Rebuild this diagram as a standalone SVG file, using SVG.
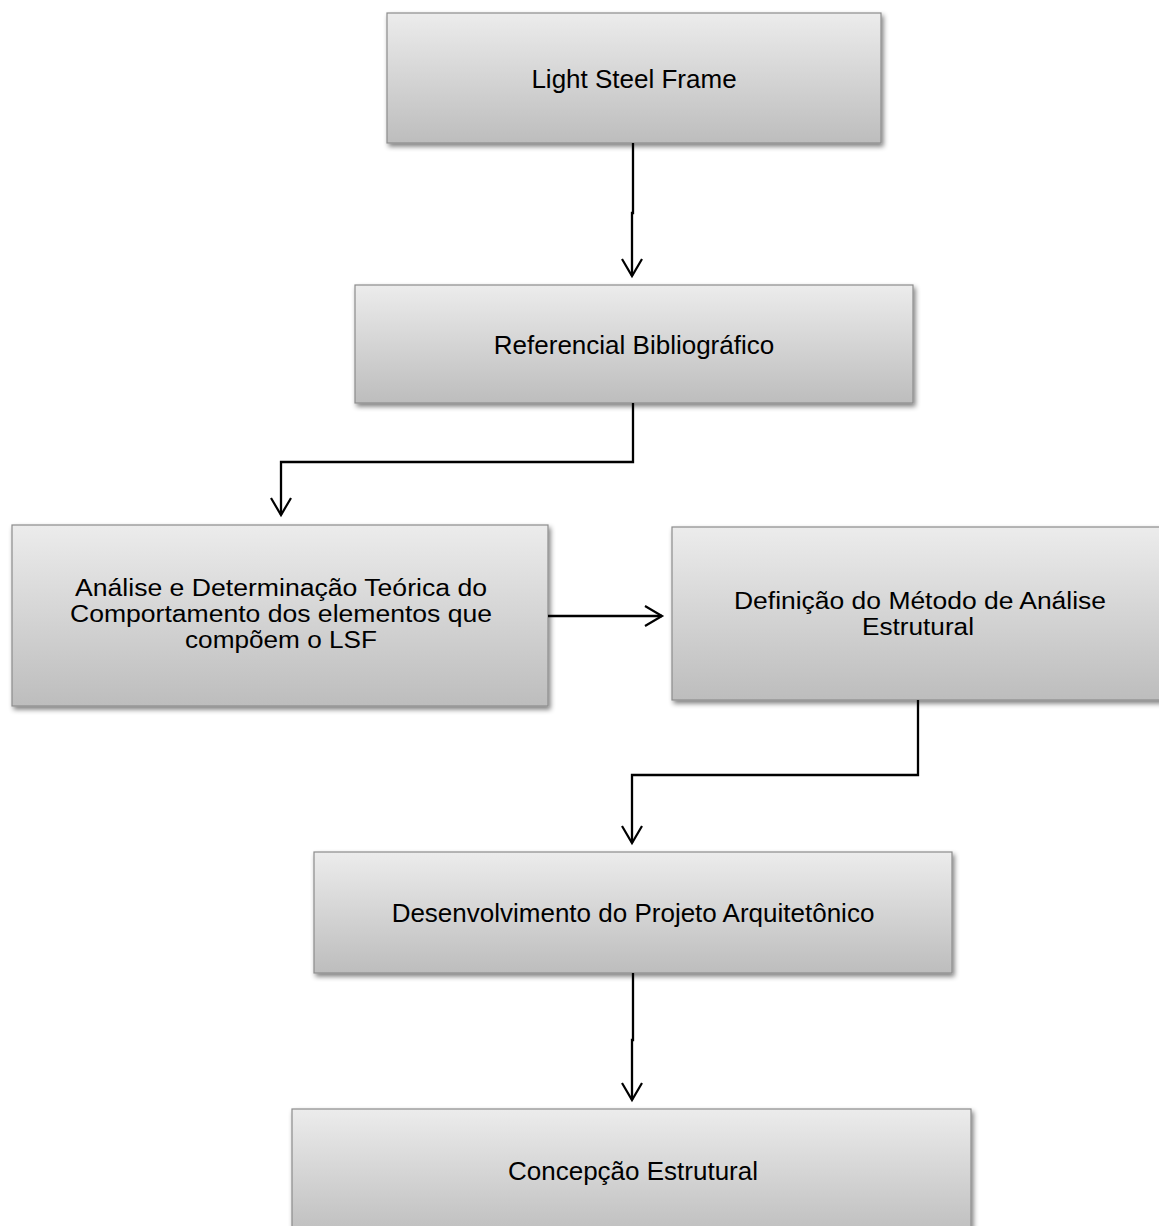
<svg xmlns="http://www.w3.org/2000/svg" width="1159" height="1226" viewBox="0 0 1159 1226">
<defs>
<linearGradient id="g" x1="0" y1="0" x2="0" y2="1">
<stop offset="0" stop-color="#ececec"/>
<stop offset="1" stop-color="#bdbdbd"/>
</linearGradient>
<filter id="sh" x="-5%" y="-5%" width="115%" height="125%">
<feGaussianBlur in="SourceAlpha" stdDeviation="2.5"/>
<feOffset dx="1.5" dy="3" result="b"/>
<feComponentTransfer><feFuncA type="linear" slope="0.5"/></feComponentTransfer>
<feMerge><feMergeNode/><feMergeNode in="SourceGraphic"/></feMerge>
</filter>
<marker id="ah" markerWidth="24" markerHeight="24" refX="18" refY="11" orient="auto" markerUnits="userSpaceOnUse">
<path d="M1,1 L18,11 L1,21" fill="none" stroke="#000" stroke-width="2.2"/>
</marker>
</defs>
<style>
.box{fill:url(#g);stroke:#8c8c8c;stroke-width:1.2;filter:url(#sh)}
.t{font-family:"Liberation Sans",Arial,sans-serif;font-size:26px;fill:#000;text-anchor:middle}
.m{font-size:23px}
.c{fill:none;stroke:#000;stroke-width:2.3;marker-end:url(#ah)}
</style>
<rect width="1159" height="1226" fill="#fff"/>
<g id="n1"><rect class="box" x="387" y="13" width="494" height="130"/><text class="t" x="634" y="88">Light Steel Frame</text></g>
<g id="n2"><rect class="box" x="355" y="285" width="558" height="118"/><text class="t" x="634" y="354">Referencial Bibliográfico</text></g>
<g id="n3"><rect class="box" x="12" y="525" width="536" height="181"/><text class="t m" x="281" y="596" textLength="412" lengthAdjust="spacingAndGlyphs">Análise e Determinação Teórica do</text><text class="t m" x="281" y="622" textLength="422" lengthAdjust="spacingAndGlyphs">Comportamento dos elementos que</text><text class="t m" x="281" y="648" textLength="192" lengthAdjust="spacingAndGlyphs">compõem o LSF</text></g>
<g id="n4"><rect class="box" x="672" y="527" width="495" height="173"/><text class="t m" x="920" y="609" textLength="372" lengthAdjust="spacingAndGlyphs">Definição do Método de Análise</text><text class="t m" x="918" y="635" textLength="112" lengthAdjust="spacingAndGlyphs">Estrutural</text></g>
<g id="n5"><rect class="box" x="314" y="852" width="638" height="121"/><text class="t" x="633" y="922">Desenvolvimento do Projeto Arquitetônico</text></g>
<g id="n6"><rect class="box" x="292" y="1109" width="679" height="130"/><text class="t" x="633" y="1180">Concepção Estrutural</text></g>
<g id="connectors">
<path class="c" d="M633,143 V213 H632 V276"/>
<path class="c" d="M633,403 V462 H281 V515"/>
<path class="c" d="M548,616 H662"/>
<path class="c" d="M918,700 V775 H632 V843"/>
<path class="c" d="M633,973 V1040 H632 V1100"/>
</g>
</svg>
